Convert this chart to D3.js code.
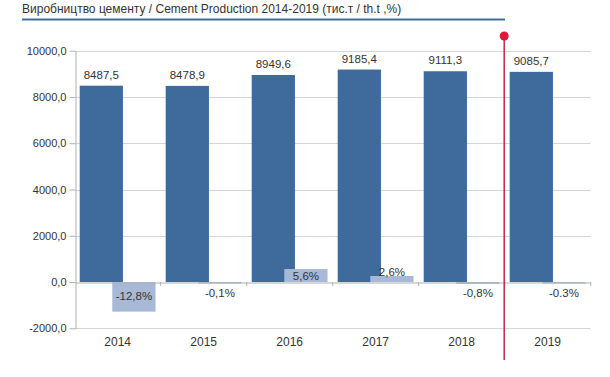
<!DOCTYPE html>
<html>
<head>
<meta charset="utf-8">
<script src="https://cdn.jsdelivr.net/npm/d3@7"></script>
<style>
	body { margin: 0; background: #fff; }
	svg { display: block; font-family: 'Liberation Sans', Arial, sans-serif; }
</style>
</head>
<body>
<svg width="610" height="377"></svg>
<script>
const years = ['2014', '2015', '2016', '2017', '2018', '2019'];
const production = [8487.5, 8478.9, 8949.6, 9185.4, 9111.3, 9085.7];
const change = [-12.8, -0.1, 5.6, 2.6, -0.8, -0.3];
const changeLabels = ['-12,8%', '-0,1%', '5,6%', '2,6%', '-0,8%', '-0.3%'];
const yTicks = [-2000, 0, 2000, 4000, 6000, 8000, 10000];
const title = 'Виробництво цементу / Cement Production 2014-2019 (тис.т / th.t ,%)';
const markerYear = '2019';

const svg = d3.select('svg');
const fmt = v => d3.format('.1f')(v).replace('.', ',').replace('−', '-');

// title and underline
svg.append('text')
	.attr('x', 22)
	.attr('y', 13)
	.attr('font-size', '12px')
	.attr('fill', '#333')
	.text(title);
svg.append('line')
	.attr('x1', 22).attr('x2', 505)
	.attr('y1', 19.5).attr('y2', 19.5)
	.attr('stroke', '#3a6f98')
	.attr('stroke-width', 2);

const plotLeft = 74.7, plotRight = 590.7, plotTop = 50.7, plotBottom = 328.3;

const x = d3.scaleBand().domain(years).range([plotLeft, plotRight]).padding(0);
const y = d3.scaleLinear().domain([-2000, 10000]).range([plotBottom, plotTop]);
const y2 = d3.scaleLinear().domain([-20, 100]).range([plotBottom, plotTop]);
const bw = x.bandwidth();

// grid
svg.append('g')
	.selectAll('line')
	.data(yTicks.filter(t => t !== 0))
	.enter()
	.append('line')
	.attr('x1', plotLeft).attr('x2', plotRight)
	.attr('y1', d => Math.round(y(d)) + 0.5).attr('y2', d => Math.round(y(d)) + 0.5)
	.attr('stroke', '#d4d4d4');

// y axis
const yAxis = svg.append('g')
	.attr('transform', `translate(${Math.round(plotLeft) + 0.5},0)`)
	.call(d3.axisLeft(y).tickValues(yTicks).tickFormat(fmt).tickSize(6).tickSizeOuter(0));
yAxis.select('.domain').attr('stroke', '#b0b0b0');
yAxis.selectAll('.tick line').attr('stroke', '#b0b0b0');
yAxis.selectAll('.tick text')
	.attr('font-size', '11px')
	.attr('fill', '#333')
	.attr('font-family', 'Liberation Sans, Arial, sans-serif')
	.attr('x', -9);

// production bars
svg.append('g')
	.selectAll('rect')
	.data(production)
	.enter()
	.append('rect')
	.attr('x', (d, i) => x(years[i]) + bw * 0.058)
	.attr('width', bw * 0.503)
	.attr('y', d => y(d))
	.attr('height', d => y(0) - y(d))
	.attr('fill', '#3e6a9c');

// change bars (secondary axis)
svg.append('g')
	.selectAll('rect')
	.data(change)
	.enter()
	.append('rect')
	.attr('x', (d, i) => x(years[i]) + bw * 0.437)
	.attr('width', bw * 0.503)
	.attr('y', d => Math.min(y2(d), y2(0)))
	.attr('height', d => Math.max(Math.abs(y2(d) - y2(0)), 1.5))
	.attr('fill', '#a8b9d8');

// x axis at zero
const xAxis = svg.append('g')
	.attr('transform', `translate(0,${Math.round(y(0)) + 0.5})`)
	.call(d3.axisBottom(x).tickSize(0).tickFormat(''));
xAxis.select('.domain').attr('stroke', '#b0b0b0');
xAxis.selectAll('.tick').remove();
svg.append('g')
	.selectAll('line')
	.data(years.slice(1).concat(['end']))
	.enter()
	.append('line')
	.attr('x1', d => d === 'end' ? plotRight : x(d))
	.attr('x2', d => d === 'end' ? plotRight : x(d))
	.attr('y1', y(0)).attr('y2', y(0) + 4)
	.attr('stroke', '#b0b0b0');

// year labels
svg.append('g')
	.selectAll('text')
	.data(years)
	.enter()
	.append('text')
	.attr('x', d => x(d) + bw / 2)
	.attr('y', plotBottom + 18)
	.attr('text-anchor', 'middle')
	.attr('font-size', '12px')
	.attr('fill', '#333')
	.text(d => d);

// production labels
svg.append('g')
	.selectAll('text')
	.data(production)
	.enter()
	.append('text')
	.attr('x', (d, i) => x(years[i]) + bw * 0.058 + bw * 0.2515)
	.attr('y', d => y(d) - 7)
	.attr('text-anchor', 'middle')
	.attr('font-size', '11.5px')
	.attr('fill', '#333')
	.text(d => fmt(d));

// change labels
svg.append('g')
	.selectAll('text')
	.data(change)
	.enter()
	.append('text')
	.attr('x', (d, i) => x(years[i]) + bw * 0.437 + bw * 0.2515)
	.attr('y', d => {
		const h = Math.abs(y2(d) - y2(0));
		if (d >= 0) return (h > 12 ? y2(d) + 7 : y2(0) - 10) + 4;
		return (h > 12 ? y2(0) + 14 : y2(0) + 11) + 4;
	})
	.attr('text-anchor', 'middle')
	.attr('font-size', '11.5px')
	.attr('fill', '#333')
	.text((d, i) => changeLabels[i]);

// red marker line
const mx = x(markerYear) - 0.5;
svg.append('line')
	.attr('x1', mx).attr('x2', mx)
	.attr('y1', 36).attr('y2', 360)
	.attr('stroke', '#c8244a')
	.attr('stroke-width', 1.5);
svg.append('circle')
	.attr('cx', mx).attr('cy', 36)
	.attr('r', 4.5)
	.attr('fill', '#e0163c');
</script>
</body>
</html>
